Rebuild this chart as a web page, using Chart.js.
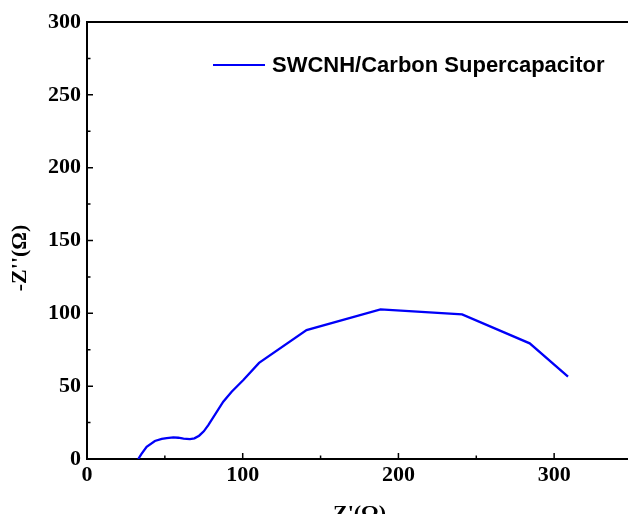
<!DOCTYPE html>
<html>
<head>
<meta charset="utf-8">
<script src="https://cdn.jsdelivr.net/npm/chart.js@4.4.1/dist/chart.umd.min.js"></script>
<style>
  html, body { margin: 0; padding: 0; background: #fff; overflow: hidden; }
  #wrap { width: 632px; height: 530px; }
</style>
</head>
<body>
<div id="wrap"><canvas id="nyquist" width="632" height="530"></canvas></div>
<script>
// Nyquist data, Z' (real part) and -Z'' (imaginary part), ohms
const zReal = [32.9, 35, 38.3, 43.6, 48, 51.2, 55.4, 58.6, 62, 66.1, 69, 72, 75, 77.9, 87.5, 92.9, 100.4, 110.5, 141, 188.5, 240.9, 284.3, 308.9];
const zImag = [0, 3.5, 8.4, 12.4, 13.8, 14.3, 14.8, 14.6, 14.0, 13.7, 14.2, 16, 19, 23.3, 39.3, 46.2, 54.2, 66, 88.5, 102.7, 99.3, 79.4, 56.5];
const seriesName = "SWCNH/Carbon Supercapacitor";
const xTitle = "Z'(Ω)";
const yTitle = "-Z''(Ω)";

// axis ticks
const xMajor = [0, 100, 200, 300];
const xMinor = [50, 150, 250];
const yMajor = [0, 50, 100, 150, 200, 250, 300];
const yMinor = [25, 75, 125, 175, 225, 275];

const points = zReal.map((x, i) => ({ x: x, y: zImag[i] }));
const serif = "'Liberation Serif', 'Times New Roman', serif";

// inward tick marks, top frame line, y title and the in-plot legend
const framePlugin = {
  id: "frame",
  afterDraw(chart) {
    const ctx = chart.ctx;
    const a = chart.chartArea;
    const xs = chart.scales.x, ys = chart.scales.y;
    ctx.save();
    ctx.strokeStyle = "#000";
    ctx.lineWidth = 2;
    ctx.beginPath();
    ctx.moveTo(a.left - 1, a.top);
    ctx.lineTo(a.right + 2, a.top);
    ctx.stroke();

    ctx.lineWidth = 1.5;
    ctx.beginPath();
    xMajor.forEach(v => { const p = xs.getPixelForValue(v); ctx.moveTo(p, a.bottom); ctx.lineTo(p, a.bottom - 6); });
    xMinor.forEach(v => { const p = xs.getPixelForValue(v); ctx.moveTo(p, a.bottom); ctx.lineTo(p, a.bottom - 3.5); });
    yMajor.forEach(v => { const p = ys.getPixelForValue(v); ctx.moveTo(a.left, p); ctx.lineTo(a.left + 6, p); });
    yMinor.forEach(v => { const p = ys.getPixelForValue(v); ctx.moveTo(a.left, p); ctx.lineTo(a.left + 3.5, p); });
    ctx.stroke();

    // y axis title, sits a bit below the middle of the axis
    ctx.fillStyle = "#000";
    ctx.font = "bold 22px " + serif;
    ctx.textAlign = "center";
    ctx.textBaseline = "middle";
    ctx.translate(20, ys.getPixelForValue(138));
    ctx.rotate(-Math.PI / 2);
    ctx.fillText(yTitle, 0, 0);
    ctx.setTransform(1, 0, 0, 1, 0, 0);

    // legend
    const ds = chart.data.datasets[0];
    const lx = a.left + 126, ly = a.top + 43;
    ctx.strokeStyle = ds.borderColor;
    ctx.lineWidth = 2;
    ctx.beginPath();
    ctx.moveTo(lx, ly);
    ctx.lineTo(lx + 52, ly);
    ctx.stroke();
    ctx.font = "bold 22px 'Liberation Sans', Arial, sans-serif";
    ctx.textAlign = "left";
    ctx.fillText(ds.label, lx + 59, ly + 1);
    ctx.restore();
  }
};

new Chart(document.getElementById("nyquist"), {
  type: "scatter",
  data: {
    datasets: [{
      label: seriesName,
      data: points,
      showLine: true,
      borderColor: "#0000f8",
      borderWidth: 2.3,
      pointRadius: 0,
      tension: 0
    }]
  },
  options: {
    responsive: false,
    animation: false,
    layout: { padding: { top: 22, left: 0, right: 0, bottom: 0 } },
    plugins: { legend: { display: false }, tooltip: { enabled: false } },
    scales: {
      x: {
        type: "linear",
        min: 0,
        max: 350,
        afterBuildTicks: s => { s.ticks = xMajor.map(v => ({ value: v })); },
        afterFit: s => { s.height = 71; },
        grid: { drawOnChartArea: false, drawTicks: false },
        border: { color: "#000", width: 2 },
        ticks: { color: "#000", padding: 3, maxRotation: 0, font: { family: serif, size: 22, weight: "bold" } },
        title: { display: true, text: xTitle, color: "#000", padding: { top: 0, bottom: 2 }, font: { family: serif, size: 22, weight: "bold" } }
      },
      y: {
        type: "linear",
        min: 0,
        max: 300,
        afterBuildTicks: s => { s.ticks = yMajor.map(v => ({ value: v })); },
        afterFit: s => { s.width = 87; },
        grid: { drawOnChartArea: false, drawTicks: false },
        border: { color: "#000", width: 2 },
        ticks: { color: "#000", padding: 6, font: { family: serif, size: 22, weight: "bold" } }
      }
    }
  },
  plugins: [framePlugin]
});
</script>
</body>
</html>
